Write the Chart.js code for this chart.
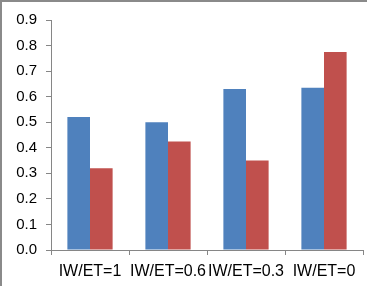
<!DOCTYPE html>
<html>
<head>
<meta charset="utf-8">
<script src="https://cdn.jsdelivr.net/npm/chart.js@4.4.0/dist/chart.umd.min.js"></script>
<style>
  html, body { margin: 0; padding: 0; background: #fff; }
  #wrap { width: 367px; height: 286px; position: relative; }
</style>
</head>
<body>
<div id="wrap"><canvas id="mycanvas"></canvas></div>
<script>
var kategorie = ['IW/ET=1', 'IW/ET=0.6', 'IW/ET=0.3', 'IW/ET=0'];
var seria1 = [0.52, 0.50, 0.63, 0.635];
var seria2 = [0.32, 0.425, 0.35, 0.775];
var yMin = 0, yMax = 0.9, yStep = 0.1;

var osKolor = '#868686';

// white background + grey frame on top/left like the original picture
var ramka = {
	id: 'ramka',
	beforeDraw: function(chart) {
		var c = chart.ctx;
		c.save();
		c.fillStyle = '#fff';
		c.fillRect(0, 0, chart.width, chart.height);
		c.fillStyle = '#8a8a8a';
		c.fillRect(0, 0, chart.width, 2);
		c.fillRect(0, 0, 2, chart.height);
		c.restore();
	}
};

var chartdata = {
	labels: kategorie,
	datasets: [
		{
			label: 'seria1',
			backgroundColor: '#4F81BD',
			data: seria1
		},
		{
			label: 'seria2',
			backgroundColor: '#C0504D',
			data: seria2
		}
	]
};

var ctx = document.getElementById('mycanvas');

var barGraph = new Chart(ctx, {
	type: 'bar',
	data: chartdata,
	plugins: [ramka],
	options: {
		responsive: true,
		maintainAspectRatio: false,
		animation: false,
		layout: { padding: { top: 20, right: 4, left: 0, bottom: 0 } },
		plugins: {
			legend: { display: false },
			tooltip: { enabled: false }
		},
		datasets: {
			bar: { categoryPercentage: 0.58, barPercentage: 1.0 }
		},
		scales: {
			x: {
				grid: { drawOnChartArea: false, drawTicks: true, tickLength: 5, color: osKolor, offset: true },
				border: { color: osKolor },
				ticks: {
					color: '#000',
					padding: 7,
					maxRotation: 0,
					autoSkip: false,
					font: { family: 'Liberation Sans', size: 16 }
				},
				afterFit: function(scale) { scale.height = 36; }
			},
			y: {
				min: yMin,
				max: yMax,
				grid: { drawOnChartArea: false, drawTicks: true, tickLength: 5, color: osKolor },
				border: { color: osKolor },
				ticks: {
					stepSize: yStep,
					color: '#000',
					padding: 9,
					font: { family: 'Liberation Sans', size: 15 },
					callback: function(v) { return v.toFixed(1); }
				},
				afterFit: function(scale) { scale.width = 51; }
			}
		}
	}
});
</script>
</body>
</html>
